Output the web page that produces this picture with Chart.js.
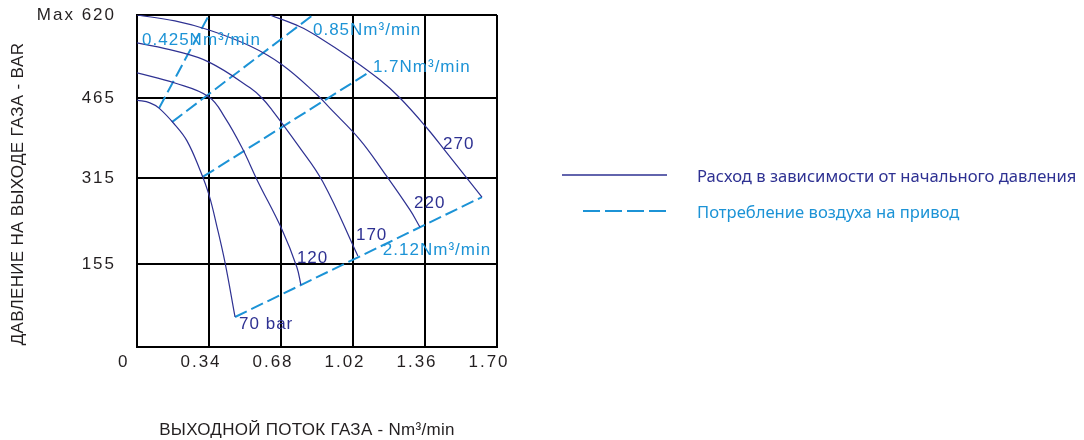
<!DOCTYPE html>
<html lang="ru">
<head>
<meta charset="utf-8">
<title>Расход газа</title>
<script src="https://cdn.jsdelivr.net/npm/chart.js@4.4.1/dist/chart.umd.min.js"></script>
<style>
    html, body { margin: 0; padding: 0; background: #fff; }
    #wrap { position: relative; width: 1084px; height: 440px; }
    #chartBox { position: absolute; left: 0; top: 0; width: 1084px; height: 440px; }
    .legend-row { position: absolute; left: 562px; height: 20px; display: flex; align-items: center; }
    .legend-row svg { width: 135px; height: 20px; flex: none; }
    .legend-row span { font-family: "Noto Sans", "Open Sans", sans-serif; font-size: 16.6px; white-space: nowrap; }
</style>
</head>
<body>
<div id="wrap">
    <div id="chartBox"><canvas id="flowChart"></canvas></div>
    <div class="legend-row" style="top: 165px;">
        <svg><line x1="0" y1="10" x2="105" y2="10" stroke="#2e3192" stroke-width="1.5"/></svg>
        <span style="color: #2e3192;">Расход в зависимости от начального давления</span>
    </div>
    <div class="legend-row" style="top: 201px;">
        <svg><line x1="21" y1="10" x2="105" y2="10" stroke="#1c93d6" stroke-width="2" stroke-dasharray="17 5"/></svg>
        <span style="color: #1c93d6;">Потребление воздуха на привод</span>
    </div>
</div>
<script>
// Оси
const xTicks = [0, 0.34, 0.68, 1.02, 1.36, 1.70];
const yTicks = [0, 155, 315, 465, 620];

// Кривые расхода при начальном давлении (Nm³/min, бар на выходе)
const curve70 = [[0, 461], [0.061, 456], [0.104, 446], [0.179, 415], [0.236, 385], [0.297, 331], [0.340, 284], [0.378, 224], [0.416, 157], [0.463, 56]];
const curve120 = [[0, 512], [0.179, 493], [0.340, 467], [0.416, 428], [0.496, 372], [0.567, 312], [0.685, 219], [0.755, 149], [0.774, 116]];
const curve170 = [[0, 568], [0.179, 553], [0.340, 532], [0.534, 484], [0.590, 465], [0.637, 443], [0.760, 377], [0.878, 308], [1.043, 170]];
const curve220 = [[0, 620], [0.179, 609], [0.340, 592], [0.534, 562], [0.685, 527], [0.850, 471], [0.911, 446], [1.053, 387], [1.161, 329], [1.289, 256], [1.336, 224]];
const curve270 = [[0.628, 620], [0.770, 598], [0.864, 577], [1.006, 540], [1.147, 499], [1.242, 465], [1.369, 409], [1.464, 362], [1.629, 280]];

// Линии потребления воздуха на привод
const air0425 = [[0.104, 446], [0.340, 620]];
const air085 = [[0.165, 420], [0.831, 620]];
const air17 = [[0.312, 318], [1.100, 514]];
const air212 = [[0.463, 56], [1.629, 280]];

const NAVY = '#2e3192';
const BLUE = '#1c93d6';

// Подписи на графике (точка привязки — левый край текста)
const curveLabels = [
    { text: '0.425Nm³/min', x: 0.024, y: 573, color: BLUE },
    { text: '0.85Nm³/min', x: 0.831, y: 592, color: BLUE },
    { text: '1.7Nm³/min', x: 1.114, y: 523, color: BLUE },
    { text: '2.12Nm³/min', x: 1.161, y: 181, color: BLUE },
    { text: '270', x: 1.445, y: 379, color: NAVY },
    { text: '220', x: 1.308, y: 269, color: NAVY },
    { text: '170', x: 1.034, y: 209, color: NAVY },
    { text: '120', x: 0.755, y: 166, color: NAVY },
    { text: '70 bar', x: 0.482, y: 43, color: NAVY }
];

const toPoints = arr => arr.map(p => ({ x: p[0], y: p[1] }));

function solid(data) {
    return {
        data: toPoints(data),
        borderColor: NAVY,
        borderWidth: 1.2,
        pointRadius: 0,
        showLine: true,
        tension: 0.4
    };
}

function dashed(data) {
    return {
        data: toPoints(data),
        borderColor: BLUE,
        borderWidth: 2,
        borderDash: [13, 5],
        pointRadius: 0,
        showLine: true
    };
}

const textPlugin = {
    id: 'texts',
    beforeDraw(chart) {
        chart.ctx.letterSpacing = '2px';
    },
    afterDatasetsDraw(chart) {
        const { ctx, scales: { x, y } } = chart;
        ctx.save();
        ctx.font = '17px "Liberation Sans", Arial, sans-serif';
        ctx.letterSpacing = '1px';
        ctx.textAlign = 'left';
        ctx.textBaseline = 'middle';
        curveLabels.forEach(l => {
            ctx.fillStyle = l.color;
            ctx.fillText(l.text, x.getPixelForValue(l.x), y.getPixelForValue(l.y));
        });
        ctx.restore();
    },
    afterDraw(chart) {
        const { ctx, chartArea } = chart;
        ctx.save();
        ctx.font = '17px "Liberation Sans", Arial, sans-serif';
        ctx.letterSpacing = '0.3px';
        ctx.fillStyle = '#231f20';
        ctx.textAlign = 'center';
        ctx.textBaseline = 'middle';
        ctx.fillText('ВЫХОДНОЙ ПОТОК ГАЗА - Nm³/min', (chartArea.left + chartArea.right) / 2 - 10, chart.height - 10);
        ctx.translate(18, (chartArea.top + chartArea.bottom) / 2 + 13);
        ctx.rotate(-Math.PI / 2);
        ctx.fillText('ДАВЛЕНИЕ НА ВЫХОДЕ ГАЗА - BAR', 0, 0);
        ctx.restore();
        ctx.letterSpacing = '0px';
    }
};

const ctx = document.getElementById('flowChart').getContext('2d');
new Chart(ctx, {
    type: 'scatter',
    data: {
        datasets: [
            solid(curve70), solid(curve120), solid(curve170), solid(curve220), solid(curve270),
            dashed(air0425), dashed(air085), dashed(air17), dashed(air212)
        ]
    },
    options: {
        responsive: true,
        maintainAspectRatio: false,
        animation: false,
        layout: { padding: { top: 15, right: 587, left: 0, bottom: 0 } },
        plugins: { legend: { display: false }, tooltip: { enabled: false } },
        scales: {
            x: {
                type: 'linear',
                min: 0,
                max: 1.70,
                afterBuildTicks: scale => { scale.ticks = xTicks.map(v => ({ value: v })); },
                afterFit: scale => { scale.height = 93; },
                grid: { color: '#000', lineWidth: 2, drawTicks: false },
                border: { color: '#000', width: 2 },
                ticks: {
                    padding: 5,
                    labelOffset: -8,
                    color: '#231f20',
                    font: { family: '"Liberation Sans", Arial, sans-serif', size: 17 },
                    callback: v => v === 0 ? '0\u2002' : v.toFixed(2)
                }
            },
            y: {
                type: 'linear',
                min: 0,
                max: 620,
                afterBuildTicks: scale => { scale.ticks = yTicks.map(v => ({ value: v })); },
                afterFit: scale => {
                    scale.width = 137;
                    scale.paddingTop = 0;
                    scale.paddingBottom = 0;
                },
                grid: { color: '#000', lineWidth: 2, drawTicks: false },
                border: { color: '#000', width: 2 },
                ticks: {
                    padding: 21,
                    color: '#231f20',
                    font: { family: '"Liberation Sans", Arial, sans-serif', size: 17 },
                    callback: v => v === 0 ? '' : (v === 620 ? 'Max 620' : String(v))
                }
            }
        }
    },
    plugins: [textPlugin]
});
</script>
</body>
</html>
